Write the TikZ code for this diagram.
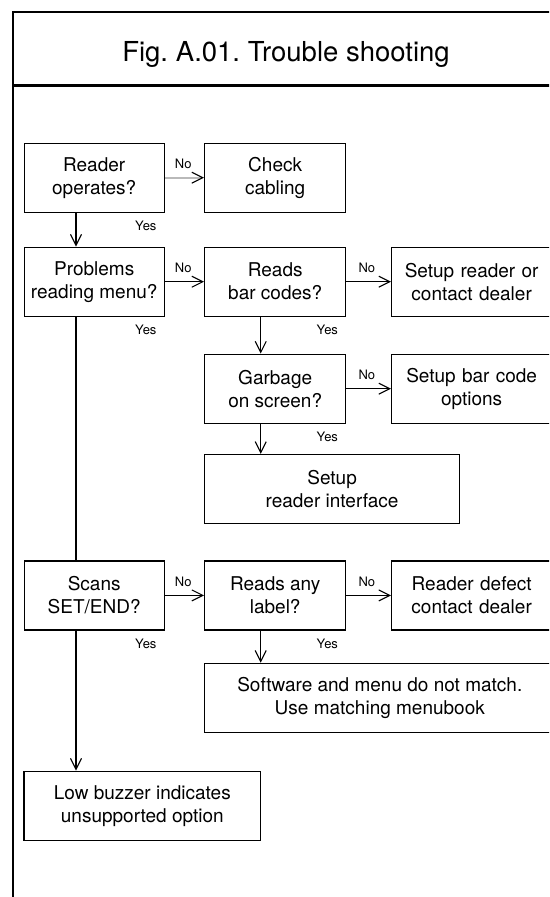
\documentclass[tikz,border=0pt]{standalone}
\usepackage{fontspec}
\setmainfont{TeX Gyre Heros}
\usepackage{tikz}
\usetikzlibrary{arrows.meta,positioning}
\frenchspacing
\tikzset{
  bx/.style={rectangle,draw=black,line width=1.3pt,minimum height=69pt,inner sep=0pt,align=center,font=\fontsize{19}{23}\selectfont},
  rbx/.style={bx,minimum width=160pt,text width=160pt,anchor=west},
  ar/.style={-{Straight Barb[length=11pt,width=11pt]},line width=1.1pt},
  lb/.style={inner sep=0pt,font=\fontsize{13}{13}\selectfont},
  fr/.style={line width=2.6pt}
}

\begin{document}
\begin{tikzpicture}[x=1pt,y=-1pt]
\useasboundingbox (0,0) rectangle (549,897);
\clip (0,0) rectangle (549,897);
% frame and heading
\draw[fr] (600,12) -- (13,12) -- (13,920);
\draw[fr] (13,85.7) -- (600,85.7);
\node[font=\fontsize{27.5}{27.5}\selectfont,anchor=base,inner sep=0pt] (title) at (286,61.7) {Fig. A.01. Trouble shooting};
% boxes
\node[bx,minimum width=140pt] (reader) at (94.2,177.7) {Reader\\operates?};
\node[bx,minimum width=141pt] (cable) at (275.2,177.7) {Check\\cabling};
\node[bx,minimum width=140pt] (menu) at (94.2,281.7) {Problems\\reading menu?};
\node[bx,minimum width=141pt] (codes) at (275.2,281.7) {Reads\\bar codes?};
\node[rbx] (dealer) at (391,281.7) {Setup reader or\\contact dealer};
\node[bx,minimum width=141pt] (garbage) at (275.2,388.7) {Garbage\\on screen?};
\node[rbx] (options) at (391,388.7) {Setup bar code\\options};
\node[bx,minimum width=254.6pt] (iface) at (332.1,489) {Setup\\reader interface};
\node[bx,minimum width=140pt] (scans) at (94.2,595.4) {Scans\\SET/END?};
\node[bx,minimum width=141pt] (anylbl) at (275.2,595.4) {Reads any\\label?};
\node[rbx] (defect) at (391,595.4) {Reader defect\\contact dealer};
\node[bx,minimum width=350pt] (menubook) at (379.8,697.8) {Software and menu do not match.\\Use matching menubook};
\node[bx,minimum width=236.7pt] (buzzer) at (142.3,805.7) {Low buzzer indicates\\unsupported option};
\coordinate (colL) at (76,0);
\coordinate (colM) at (260.7,0);
% no branches
\draw[ar,draw=gray!55,line width=2.2pt,-{Straight Barb[length=11pt,width=11pt,color=black,line width=1.1pt]}] (reader) -- node[lb,pos=.47,above=8pt]{No} (cable);
\draw[ar] (menu) -- node[lb,pos=.47,above=8pt]{No} (codes);
\draw[ar] (codes) -- node[lb,pos=.46,above=8pt]{No} (dealer);
\draw[ar] (garbage) -- node[lb,pos=.46,above=8pt]{No} (options);
\draw[ar] (scans) -- node[lb,pos=.47,above=8pt]{No} (anylbl);
\draw[ar] (anylbl) -- node[lb,pos=.46,above=8pt]{No} (defect);
% yes branches
\draw[ar] (reader.south -| colL) -- (menu.north -| colL);
\draw[line width=1.1pt] (menu.south -| colL) -- (scans.north -| colL);
\draw[ar] (scans.south -| colL) -- (buzzer.north -| colL);
\draw[ar] (codes.south -| colM) -- (garbage.north -| colM);
\draw[ar] (garbage.south -| colM) -- (iface.north -| colM);
\draw[ar] (anylbl.south -| colM) -- (menubook.north -| colM);
\foreach \n in {reader,menu,codes,garbage,scans,anylbl}
  \node[lb] (yes-\n) at ([xshift=-19pt,yshift=-13pt]\n.south east) {Yes};
\end{tikzpicture}
\end{document}
